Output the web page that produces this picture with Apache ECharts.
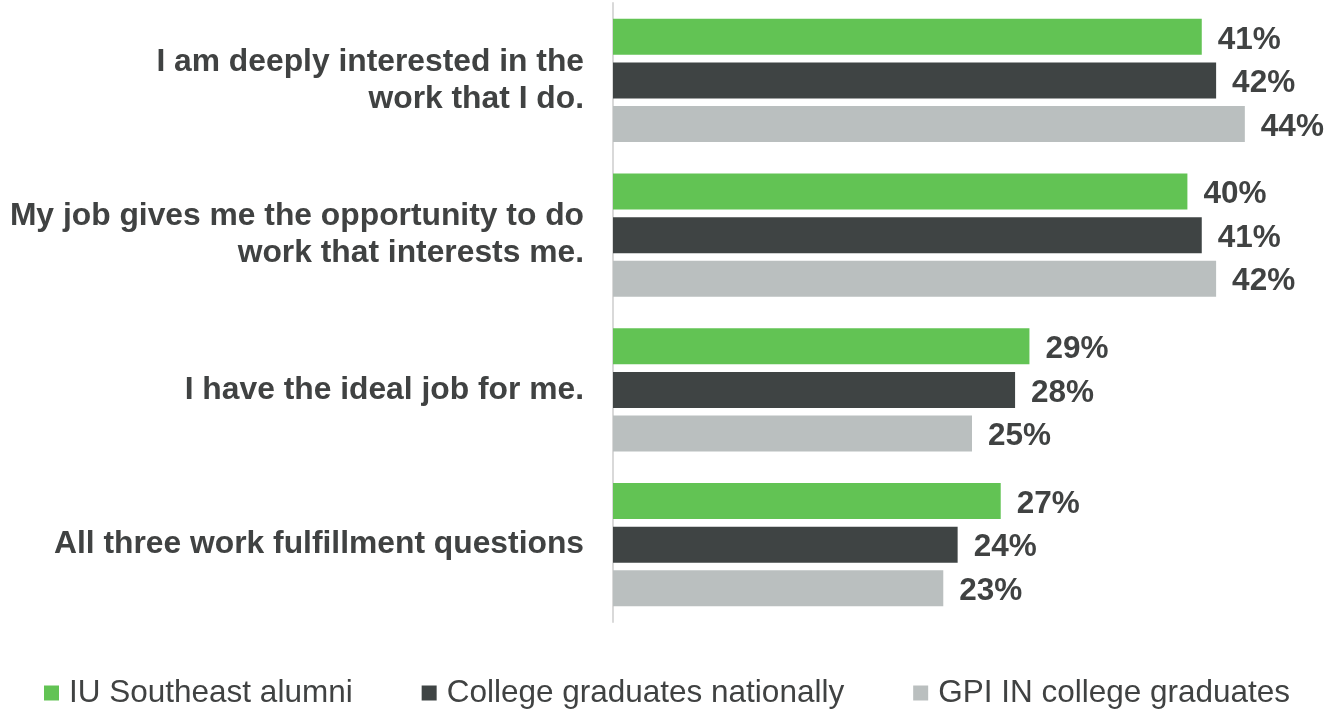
<!DOCTYPE html>
<html>
<head>
<meta charset="utf-8">
<script src="https://cdn.jsdelivr.net/npm/echarts@6/dist/echarts.min.js"></script>
<style>
  html, body { margin: 0; padding: 0; background: #ffffff; }
  #chart { width: 1340px; height: 711px; }
</style>
</head>
<body>
<div id="chart"></div>
<script>
// Survey items (top to bottom)
const categories = [
  'I am deeply interested in the\nwork that I do.',
  'My job gives me the opportunity to do\nwork that interests me.',
  'I have the ideal job for me.',
  'All three work fulfillment questions'
];
const seriesNames = ['IU Southeast alumni', 'College graduates nationally', 'GPI IN college graduates'];
const iuSoutheast = [41, 40, 29, 27];
const nationally = [42, 41, 28, 24];
const gpiIndiana = [44, 42, 25, 23];
const seriesColors = ['#62c354', '#3f4444', '#babfbf'];

const FONT = "'Liberation Sans', Arial, Helvetica, sans-serif";
const TEXT = '#404242';

const chart = echarts.init(document.getElementById('chart'), null, { renderer: 'canvas' });

const makeSeries = (name, data, color) => ({
  name: name,
  type: 'bar',
  data: data,
  barWidth: 36,
  barGap: '21%',
  itemStyle: { color: color },
  label: {
    show: true,
    position: 'right',
    distance: 16,
    offset: [0, 3],
    formatter: '{c}%',
    fontFamily: FONT,
    fontWeight: 'bold',
    fontSize: 31.5,
    color: TEXT
  },
  emphasis: { disabled: true }
});

chart.setOption({
  animation: false,
  textStyle: { fontFamily: FONT },
  grid: { left: 613, right: 9, top: 3, bottom: 89, containLabel: false },
  legend: {
    top: 672,
    left: 39,
    itemWidth: 15,
    itemHeight: 15,
    itemGap: 69,
    icon: 'rect',
    textStyle: { fontFamily: FONT, fontSize: 31.5, color: TEXT, padding: [0, 0, 0, 5] },
    data: seriesNames
  },
  xAxis: {
    type: 'value',
    min: 0,
    max: 50,
    show: false
  },
  yAxis: {
    type: 'category',
    inverse: true,
    data: categories,
    axisLine: { show: true, lineStyle: { color: '#d9d9d9', width: 2 } },
    axisTick: { show: false },
    axisLabel: {
      margin: 29,
      padding: [10, 0, 0, 0],
      fontFamily: FONT,
      fontWeight: 'bold',
      fontSize: 31.8,
      lineHeight: 37,
      color: TEXT,
      align: 'right'
    }
  },
  series: [
    makeSeries(seriesNames[0], iuSoutheast, seriesColors[0]),
    makeSeries(seriesNames[1], nationally, seriesColors[1]),
    makeSeries(seriesNames[2], gpiIndiana, seriesColors[2])
  ]
});
</script>
</body>
</html>
